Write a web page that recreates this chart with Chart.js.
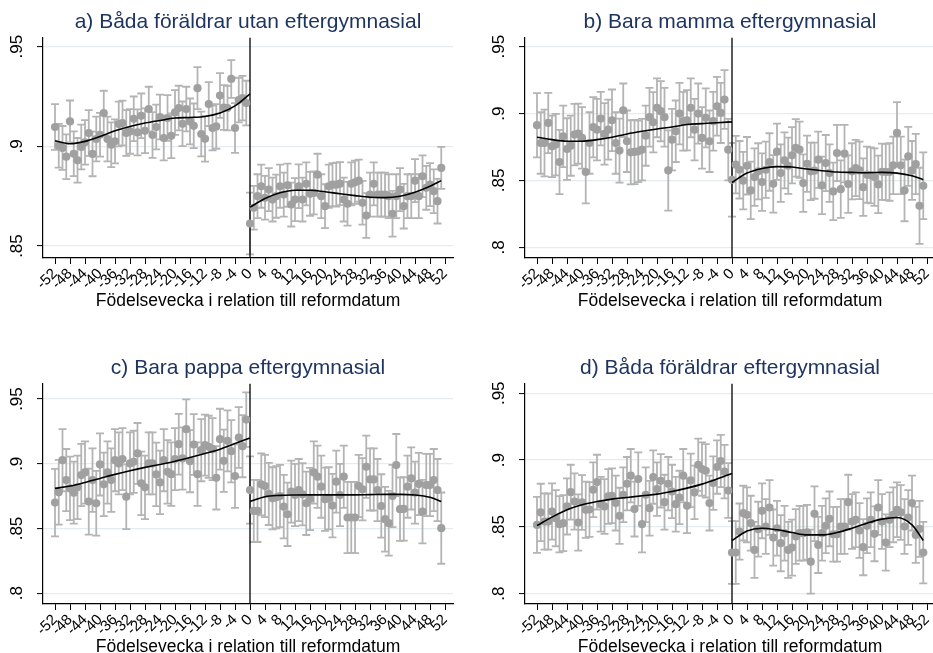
<!DOCTYPE html>
<html><head><meta charset="utf-8">
<script src="https://cdn.jsdelivr.net/npm/chart.js@4.4.1/dist/chart.umd.min.js"></script>
<style>
html,body{margin:0;padding:0;background:#fff;overflow:hidden;width:933px;height:653px;}
canvas{position:absolute;}
</style></head><body>
<canvas id="pa"></canvas><canvas id="pb"></canvas><canvas id="pc"></canvas><canvas id="pd"></canvas>
<script>
// ---------- data ----------
const weeks = [-52,-51,-50,-49,-48,-47,-46,-45,-44,-43,-42,-41,-40,-39,-38,-37,-36,-35,-34,-33,-32,-31,-30,-29,-28,-27,-26,-25,-24,-23,-22,-21,-20,-19,-18,-17,-16,-15,-14,-13,-12,-11,-10,-9,-8,-7,-6,-5,-4,-3,-2,-1,
  0,1,2,3,4,5,6,7,8,9,10,11,12,13,14,15,16,17,18,19,20,21,22,23,24,25,26,27,28,29,30,31,32,33,34,35,36,37,38,39,40,41,42,43,44,45,46,47,48,49,50,51];
const cutoffWeek = 0;
const fitXPre = [-52,-48,-44,-40,-36,-32,-28,-24,-20,-16,-12,-8,-4,0];
const fitXPost = [0,4,8,12,16,20,24,28,32,36,40,44,48,51];
const xTickValues = [-52,-48,-44,-40,-36,-32,-28,-24,-20,-16,-12,-8,-4,0,4,8,12,16,20,24,28,32,36,40,44,48,52];
const xTickLabels = ['-52','-48','-44','-40','-36','-32','-28','-24','-20','-16','-12','-8','-4','0','4','8','12','16','20','24','28','32','36','40','44','48','52'];
const xTitle = 'Födelsevecka i relation till reformdatum';

const titles = ['a) Båda föräldrar utan eftergymnasial','b) Bara mamma eftergymnasial','c) Bara pappa eftergymnasial','d) Båda föräldrar eftergymnasial'];
const yTicksA = [0.85,0.9,0.95];
const yLabelsA = ['.85','.9','.95'];
const yTicksBCD = [0.8,0.85,0.9,0.95];
const yLabelsBCD = ['.8','.85','.9','.95'];

// panel a
const meanA = [.9097,.9003,.8992,.8948,.9125,.8963,.8930,.8997,.9020,.9067,.8962,.9037,.9058,.9167,.9037,.9008,.9025,.9112,.9117,.9067,.9075,.9138,.9070,.9153,.9078,.9187,.9057,.9097,.9147,.9042,.9142,.9053,.9170,.9192,.9113,.9187,.9125,.9103,.9292,.9062,.9038,.9212,.9092,.9100,.9255,.9195,.9192,.9338,.9092,.9232,.9242,.9217,
  .8613,.8692,.8750,.8800,.8742,.8783,.8733,.8750,.8800,.8758,.8805,.8708,.8733,.8800,.8733,.8812,.8762,.8767,.8858,.8750,.8700,.8800,.8808,.8808,.8813,.8733,.8712,.8812,.8820,.8828,.8717,.8653,.8758,.8812,.8758,.8758,.8758,.8750,.8662,.8750,.8783,.8700,.8750,.8750,.8828,.8750,.8850,.8792,.8808,.8775,.8725,.8892];
const errA = [.0115,.0110,.0110,.0112,.0105,.0112,.0112,.0112,.0112,.0115,.0112,.0112,.0110,.0112,.0112,.0112,.0110,.0112,.0112,.0115,.0112,.0112,.0115,.0112,.0112,.0112,.0115,.0112,.0112,.0112,.0115,.0112,.0112,.0112,.0112,.0112,.0115,.0112,.0105,.0112,.0115,.0110,.0112,.0112,.0112,.0112,.0112,.0095,.0125,.0112,.0112,.0112,
  .0155,.0110,.0110,.0108,.0110,.0108,.0110,.0108,.0108,.0110,.0108,.0110,.0108,.0110,.0110,.0108,.0110,.0108,.0105,.0110,.0110,.0108,.0108,.0110,.0108,.0110,.0110,.0108,.0108,.0105,.0110,.0112,.0110,.0108,.0110,.0110,.0110,.0110,.0115,.0110,.0108,.0112,.0110,.0110,.0108,.0110,.0105,.0110,.0108,.0110,.0112,.0105];
const fitPreA = [.9028,.9013,.9025,.9050,.9078,.9100,.9117,.9130,.9142,.9145,.9150,.9167,.9203,.9263];
const fitPostA = [.8695,.8738,.8767,.8780,.8780,.8772,.8762,.8753,.8745,.8743,.8750,.8770,.8800,.8828];

// panel b
const meanB = [.8913,.8780,.8780,.8930,.8755,.8768,.8638,.8830,.8735,.8760,.8843,.8850,.8818,.8563,.8780,.8898,.8880,.8963,.8848,.8880,.8950,.8780,.8723,.9025,.8793,.8710,.8713,.8718,.8730,.8835,.8973,.8935,.9043,.9018,.8973,.8575,.8805,.8868,.9000,.8943,.8950,.9043,.8880,.9000,.8818,.8968,.8793,.8943,.9055,.9005,.9105,.8730,
  .8505,.8618,.8580,.8498,.8610,.8425,.8525,.8568,.8488,.8580,.8638,.8475,.8715,.8555,.8650,.8610,.8688,.8743,.8730,.8480,.8625,.8568,.8573,.8655,.8463,.8630,.8555,.8418,.8705,.8435,.8700,.8473,.8568,.8593,.8575,.8450,.8543,.8538,.8525,.8470,.8565,.8563,.8563,.8613,.8855,.8613,.8425,.8680,.8575,.8623,.8310,.8460];
const errB = [.0240,.0230,.0250,.0225,.0230,.0230,.0240,.0230,.0230,.0225,.0230,.0225,.0230,.0235,.0230,.0225,.0230,.0200,.0230,.0225,.0230,.0230,.0240,.0200,.0230,.0240,.0240,.0230,.0230,.0225,.0220,.0225,.0220,.0225,.0220,.0300,.0230,.0230,.0230,.0220,.0225,.0220,.0230,.0225,.0230,.0220,.0230,.0220,.0220,.0225,.0220,.0230,
  .0275,.0215,.0215,.0215,.0215,.0215,.0215,.0210,.0215,.0210,.0215,.0215,.0210,.0215,.0210,.0210,.0210,.0215,.0210,.0215,.0210,.0215,.0210,.0210,.0215,.0210,.0215,.0215,.0210,.0215,.0215,.0215,.0210,.0210,.0215,.0215,.0210,.0210,.0215,.0215,.0210,.0210,.0215,.0215,.0230,.0215,.0230,.0220,.0220,.0225,.0285,.0250];
const fitPreB = [.8823,.8805,.8793,.8793,.8805,.8823,.8848,.8868,.8885,.8900,.8918,.8925,.8932,.8938];
const fitPostB = [.8485,.8555,.8590,.8603,.8600,.8585,.8573,.8563,.8560,.8558,.8560,.8555,.8535,.8505];

// panel c
const meanC = [.8700,.8780,.9028,.8874,.8810,.8777,.8818,.8913,.8933,.8708,.8874,.8695,.8995,.8841,.8933,.8874,.9028,.9003,.9036,.8746,.9003,.9015,.9080,.8849,.8818,.9003,.9003,.8918,.8856,.9028,.8938,.8920,.9036,.9151,.9041,.9267,.9020,.9149,.8920,.9105,.9144,.9131,.9113,.8892,.9190,.9023,.9177,.9097,.8905,.9203,.9136,.9341,
  .8797,.8636,.8636,.8841,.8828,.8767,.8733,.8741,.8751,.8669,.8610,.8785,.8759,.8797,.8764,.8695,.8728,.8933,.8900,.8823,.8726,.8733,.8677,.8862,.8759,.8900,.8585,.8585,.8585,.8828,.8803,.8977,.8879,.8879,.8797,.8674,.8572,.8541,.8751,.8990,.8649,.8651,.8823,.8887,.8777,.8844,.8631,.8836,.8836,.8874,.8797,.8503];
const errC = [.0260,.0250,.0240,.0240,.0245,.0240,.0245,.0240,.0240,.0255,.0245,.0250,.0240,.0245,.0240,.0245,.0240,.0240,.0240,.0250,.0240,.0240,.0235,.0245,.0245,.0240,.0240,.0245,.0245,.0240,.0245,.0245,.0240,.0235,.0240,.0230,.0240,.0235,.0245,.0240,.0235,.0240,.0240,.0245,.0235,.0240,.0235,.0240,.0245,.0235,.0240,.0210,
  .0260,.0240,.0240,.0240,.0240,.0240,.0240,.0240,.0240,.0245,.0245,.0240,.0240,.0240,.0240,.0245,.0240,.0240,.0240,.0240,.0245,.0240,.0245,.0240,.0240,.0240,.0275,.0275,.0275,.0240,.0240,.0240,.0240,.0240,.0240,.0245,.0250,.0250,.0240,.0240,.0245,.0245,.0240,.0240,.0240,.0240,.0245,.0240,.0240,.0240,.0240,.0275];
const fitPreC = [.8810,.8828,.8856,.8887,.8918,.8946,.8972,.8995,.9020,.9049,.9080,.9113,.9156,.9200];
const fitPostC = [.8708,.8746,.8756,.8759,.8760,.8760,.8760,.8760,.8762,.8764,.8764,.8759,.8741,.8708];

// panel d
const meanD = [.8515,.8608,.8540,.8540,.8615,.8565,.8520,.8528,.8653,.8760,.8690,.8533,.8683,.8628,.8630,.8778,.8835,.8670,.8653,.8728,.8733,.8678,.8583,.8740,.8823,.8883,.8633,.8858,.8520,.8740,.8640,.8873,.8783,.8845,.8685,.8823,.8765,.8670,.8720,.8883,.8658,.8848,.8758,.8965,.8933,.8920,.8678,.8828,.8948,.8993,.8913,.8772,
  .8308,.8308,.8465,.8603,.8590,.8528,.8328,.8483,.8620,.8503,.8645,.8420,.8490,.8378,.8453,.8328,.8345,.8428,.8453,.8453,.8460,.8240,.8598,.8365,.8453,.8508,.8560,.8445,.8445,.8503,.8503,.8685,.8540,.8553,.8473,.8348,.8508,.8553,.8448,.8645,.8540,.8383,.8553,.8590,.8628,.8608,.8503,.8570,.8678,.8440,.8485,.8308];
const errD = [.0210,.0215,.0210,.0210,.0210,.0210,.0210,.0210,.0210,.0205,.0210,.0210,.0205,.0210,.0205,.0205,.0205,.0205,.0205,.0205,.0205,.0205,.0210,.0205,.0200,.0200,.0205,.0200,.0210,.0205,.0205,.0200,.0200,.0200,.0205,.0200,.0200,.0205,.0200,.0200,.0205,.0200,.0200,.0195,.0200,.0200,.0205,.0200,.0200,.0195,.0200,.0205,
  .0235,.0235,.0210,.0205,.0205,.0205,.0210,.0205,.0205,.0205,.0205,.0210,.0205,.0210,.0205,.0210,.0210,.0205,.0205,.0205,.0205,.0240,.0205,.0210,.0205,.0205,.0205,.0205,.0205,.0205,.0205,.0205,.0205,.0205,.0205,.0210,.0205,.0205,.0205,.0205,.0205,.0210,.0205,.0205,.0205,.0205,.0205,.0205,.0205,.0210,.0210,.0230];
const fitPreD = [.8510,.8573,.8628,.8665,.8690,.8708,.8720,.8733,.8745,.8765,.8790,.8820,.8858,.8900];
const fitPostD = [.8398,.8470,.8490,.8478,.8458,.8440,.8440,.8458,.8490,.8528,.8558,.8570,.8515,.8398];

// ---------- style / layout ----------
Chart.defaults.font.family = "'Liberation Sans', Arial, Helvetica, sans-serif";
Chart.defaults.color = '#000';
const titleColor = '#1f3561';
const dotColor = '#a0a0a0';
const barColor = '#b4b4b4';
const gridColor = '#e4ecef';

const panels = [
  {id:'pa', title:titles[0], mean:meanA, err:errA, fitPre:fitPreA, fitPost:fitPostA, yMin:0.844, yMax:0.9546, yTicks:yTicksA, yLabels:yLabelsA, left:0, top:0, width:466, yW:43},
  {id:'pb', title:titles[1], mean:meanB, err:errB, fitPre:fitPreB, fitPost:fitPostB, yMin:0.792, yMax:0.9569, yTicks:yTicksBCD, yLabels:yLabelsBCD, left:466, top:0, width:482, yW:59},
  {id:'pc', title:titles[2], mean:meanC, err:errC, fitPre:fitPreC, fitPost:fitPostC, yMin:0.7917, yMax:0.9620, yTicks:yTicksBCD, yLabels:yLabelsBCD, left:0, top:346, width:466, yW:43},
  {id:'pd', title:titles[3], mean:meanD, err:errD, fitPre:fitPreD, fitPost:fitPostD, yMin:0.7923, yMax:0.9573, yTicks:yTicksBCD, yLabels:yLabelsBCD, left:466, top:346, width:482, yW:59}
];

panels.forEach(p => {
  const cv = document.getElementById(p.id);
  cv.width = p.width; cv.height = 326;
  cv.style.left = p.left + 'px'; cv.style.top = p.top + 'px';
  cv.style.width = p.width + 'px'; cv.style.height = '326px';

  const errPlugin = {
    id: 'errbars_' + p.id,
    beforeDatasetsDraw(chart) {
      const {ctx, chartArea, scales} = chart;
      const x = scales.x, y = scales.y;
      ctx.save();
      ctx.beginPath();
      ctx.rect(chartArea.left, chartArea.top, chartArea.right - chartArea.left, chartArea.bottom - chartArea.top);
      ctx.clip();
      ctx.strokeStyle = barColor; ctx.lineWidth = 1.8;
      weeks.forEach((w, i) => {
        const px = x.getPixelForValue(w);
        const lo = y.getPixelForValue(p.mean[i] - p.err[i]);
        const hi = y.getPixelForValue(p.mean[i] + p.err[i]);
        ctx.beginPath();
        ctx.moveTo(px, lo); ctx.lineTo(px, hi);
        ctx.moveTo(px - 4, lo); ctx.lineTo(px + 4, lo);
        ctx.moveTo(px - 4, hi); ctx.lineTo(px + 4, hi);
        ctx.stroke();
      });
      const x0 = x.getPixelForValue(cutoffWeek);
      ctx.strokeStyle = '#000'; ctx.lineWidth = 1.3;
      ctx.beginPath(); ctx.moveTo(x0, chartArea.top); ctx.lineTo(x0, chartArea.bottom); ctx.stroke();
      ctx.restore();
    }
  };

  new Chart(cv, {
    type: 'scatter',
    data: {
      datasets: [
        {data: p.fitPre.map((v, i) => ({x: fitXPre[i], y: v})), showLine: true, borderColor: '#000', borderWidth: 1.6, pointRadius: 0, cubicInterpolationMode: 'monotone', order: 0},
        {data: p.fitPost.map((v, i) => ({x: fitXPost[i], y: v})), showLine: true, borderColor: '#000', borderWidth: 1.6, pointRadius: 0, cubicInterpolationMode: 'monotone', order: 0},
        {data: weeks.map((w, i) => ({x: w, y: p.mean[i]})), pointRadius: 4.1, pointBackgroundColor: dotColor, pointBorderWidth: 0, backgroundColor: dotColor, borderColor: dotColor, order: 1}
      ]
    },
    options: {
      responsive: false, animation: false, devicePixelRatio: 1,
      layout: {padding: {left: 0, right: 13, top: 0, bottom: 0}},
      plugins: {
        legend: {display: false}, tooltip: {enabled: false},
        title: {display: true, text: p.title, fullSize: false, color: titleColor, font: {size: 21, weight: 'normal'}, padding: {top: 9.4, bottom: 2.9}}
      },
      scales: {
        x: {
          type: 'linear', min: -55.2, max: 54.13,
          afterBuildTicks: a => { a.ticks = xTickValues.map(v => ({value: v})); },
          afterFit: a => { a.height = 68; },
          ticks: {callback: (v, i) => xTickLabels[i], autoSkip: false, minRotation: 45, maxRotation: 45, padding: 1, font: {size: 15}, color: '#000'},
          grid: {drawOnChartArea: false, drawTicks: true, tickLength: 6, tickColor: '#000', tickWidth: 1},
          border: {display: true, color: '#000', width: 1.2},
          title: {display: true, text: xTitle, color: '#000', font: {size: 17.5}, padding: {top: 0, bottom: 14.5}}
        },
        y: {
          type: 'linear', min: p.yMin, max: p.yMax,
          afterBuildTicks: a => { a.ticks = p.yTicks.map(v => ({value: v})); },
          afterFit: a => { a.width = p.yW; },
          ticks: {callback: (v, i) => p.yLabels[i], minRotation: 90, maxRotation: 90, crossAlign: 'center', padding: 8, font: {size: 17}, color: '#000'},
          grid: {color: gridColor, lineWidth: 1.2, drawTicks: true, tickLength: 6, tickColor: '#000', tickWidth: 1},
          border: {display: true, color: '#000', width: 1.2}
        }
      }
    },
    plugins: [errPlugin]
  });
});
</script>
</body></html>
